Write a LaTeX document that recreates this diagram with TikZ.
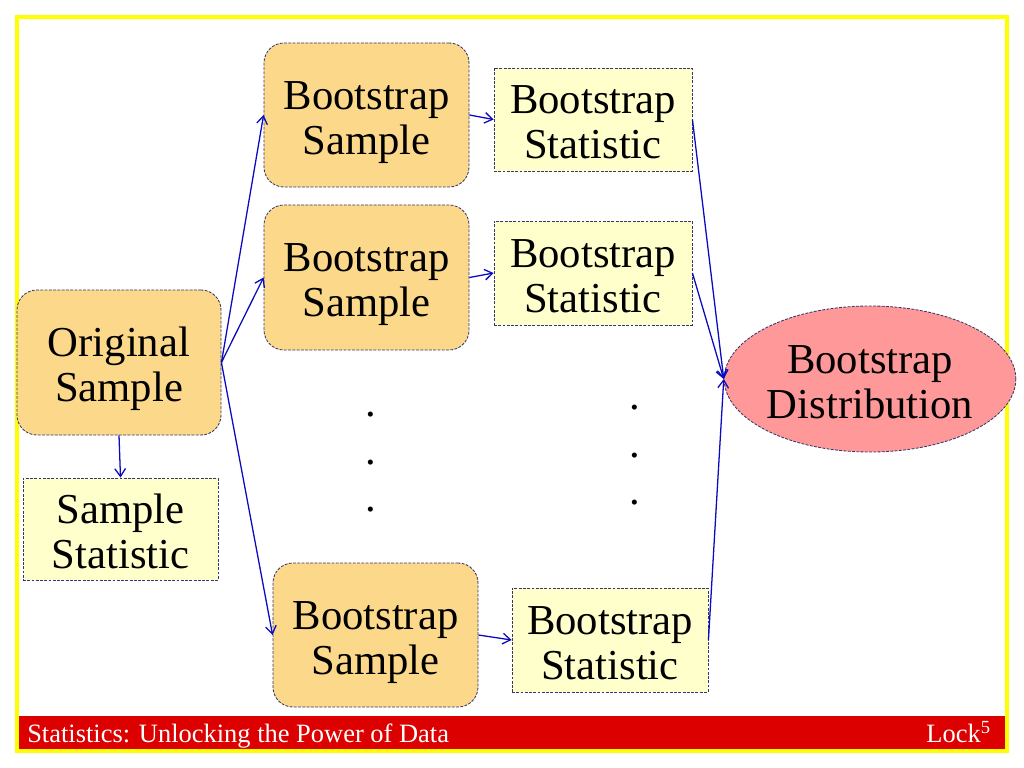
\documentclass[tikz,border=0pt]{standalone}
\usepackage{fontspec}
\setmainfont{Liberation Serif}
\usetikzlibrary{arrows.meta,shapes.geometric}
\definecolor{sampfill}{RGB}{252,217,138}
\definecolor{statfill}{RGB}{255,255,204}
\definecolor{distfill}{RGB}{255,153,153}
\definecolor{edgecol}{RGB}{55,55,105}
\definecolor{arrowcol}{RGB}{10,10,190}
\definecolor{framecol}{RGB}{255,255,0}
\definecolor{barcol}{RGB}{220,0,0}
\newcommand{\pxu}{0.703125pt}
\begin{document}
\begin{tikzpicture}[x=0.703125pt,y=-0.703125pt,
  box/.style={draw=edgecol, line width=0.6pt, dash pattern=on 2pt off 1pt,
    align=center, font=\fontsize{30}{31.6}\selectfont, inner sep=0pt,
    text height=55pt, text depth=0pt},
  sampbox/.style={box, fill=sampfill, rounded corners=14pt},
  statbox/.style={box, fill=statfill},
  distbox/.style={box, ellipse, fill=distfill},
  dotmark/.style={inner sep=0pt, font=\fontsize{30}{30}\selectfont},
  conn/.style={draw=arrowcol, line width=0.9pt, -{Straight Barb[length=5.5pt,width=7.5pt]}},
  foot/.style={text=white, inner sep=0pt, font=\fontsize{18.6}{20}\selectfont}
]
\useasboundingbox (0,0) rectangle (1024,768);
\fill[white] (0,0) rectangle (1024,768);
\draw[framecol, line width=4*\pxu] (17,17) rectangle (1006.5,750.5);
\fill[barcol] (19,716) rectangle (1005,749);
\node[foot, anchor=base west] (ftl) at (27,742.7) {Statistics: Unlocking the Power of Data};
\node[foot, anchor=base east] (ftr) at (991,742.7) {Lock\textsuperscript{5}};

\node[sampbox, minimum width=204*\pxu, minimum height=145*\pxu] (orig) at (119,362.5) {Original\\Sample};
\node[statbox, minimum width=195*\pxu, minimum height=102*\pxu] (sstat) at (120.5,529) {Sample\\Statistic};

\node[sampbox, minimum width=205*\pxu, minimum height=144*\pxu] (bs1) at (366.5,115) {Bootstrap\\Sample};
\node[sampbox, minimum width=205*\pxu, minimum height=145*\pxu] (bs2) at (366.5,277.5) {Bootstrap\\Sample};
\node[sampbox, minimum width=205*\pxu, minimum height=144*\pxu] (bs3) at (375.5,635) {Bootstrap\\Sample};

\node[statbox, minimum width=198*\pxu, minimum height=103*\pxu] (st1) at (593,119.5) {Bootstrap\\Statistic};
\node[statbox, minimum width=198*\pxu, minimum height=104*\pxu] (st2) at (593,273) {Bootstrap\\Statistic};
\node[statbox, minimum width=196*\pxu, minimum height=104*\pxu] (st3) at (610,640) {Bootstrap\\Statistic};

\node[distbox, minimum width=290*\pxu, minimum height=146*\pxu] (dist) at (870,379) {Bootstrap\\Distribution};

\node[dotmark] (d1) at (371,415) {.};
\node[dotmark] (d2) at (371,463) {.};
\node[dotmark] (d3) at (371,510) {.};
\node[dotmark] (d4) at (635,408) {.};
\node[dotmark] (d5) at (635,456) {.};
\node[dotmark] (d6) at (635,503) {.};

\draw[conn] (orig.south) -- (sstat.north);
\draw[conn] (orig.east) -- (bs1.west);
\draw[conn] (orig.east) -- (bs2.west);
\draw[conn] (orig.east) -- (bs3.west);
\draw[conn] (bs1.east) -- (st1.west);
\draw[conn] (bs2.east) -- (st2.west);
\draw[conn] (bs3.east) -- (st3.west);
\draw[conn] (st1.east) -- (dist.west);
\draw[conn] (st2.east) -- (dist.west);
\draw[conn] (st3.east) -- (dist.west);
\end{tikzpicture}
\end{document}
